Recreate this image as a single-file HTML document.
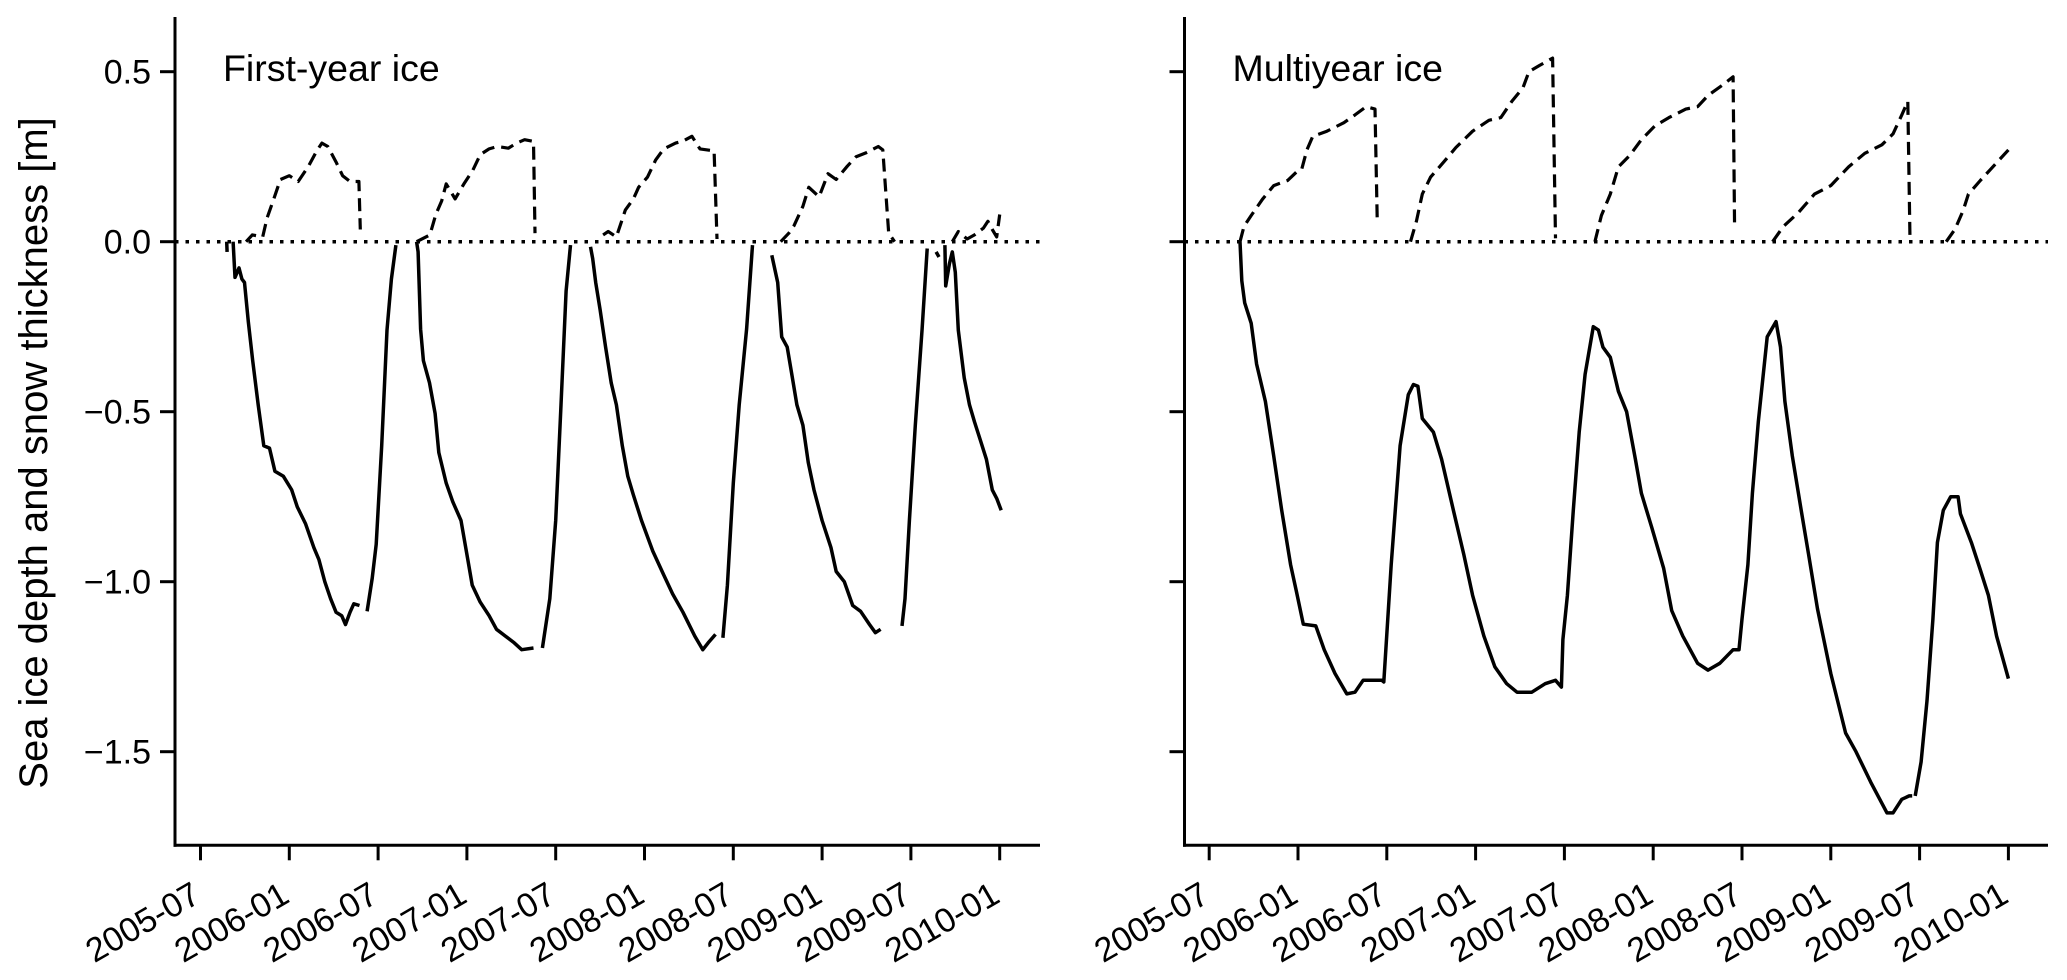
<!DOCTYPE html>
<html><head><meta charset="utf-8"><style>
html,body{margin:0;padding:0;background:#fff;}
svg{display:block;font-family:"Liberation Sans",Arial,sans-serif;}
</style></head><body>
<svg id="chart" width="2067" height="980" viewBox="0 0 2067 980" xmlns="http://www.w3.org/2000/svg">
<text transform="translate(47,453) rotate(-90)" text-anchor="middle" font-size="40" fill="#000">Sea ice depth and snow thickness [m]</text>
</svg>
<script>
// ---- data (months since 2005-07-01, metres) ----
const xTickLabels = ["2005-07","2006-01","2006-07","2007-01","2007-07","2008-01","2008-07","2009-01","2009-07","2010-01"];
const xTickMonths = [0,6,12,18,24,30,36,42,48,54];
const yTickValues = [0.5,0,-0.5,-1.0,-1.5];
const yTickLabels = ["0.5","0.0","\u22120.5","\u22121.0","\u22121.5"];
const panelTitles = ["First-year ice","Multiyear ice"];

const fyIceMonths = [1.77,1.8,null,2.2,2.33,2.6,2.8,2.97,3.23,3.53,3.9,4.28,4.66,5.03,5.6,6.16,6.54,7.1,7.66,8.0,8.4,8.79,9.16,9.54,9.8,10.1,10.36,10.74,null,11.26,11.6,11.87,12.24,12.6,12.9,13.2,null,
14.6,14.7,14.87,15.06,15.47,15.85,16.1,16.6,17.05,17.6,18.06,18.36,18.9,19.5,20.0,20.6,21.2,21.7,22.5,null,23.1,23.6,24.0,24.36,24.7,25.0,null,
26.35,26.5,26.7,27.0,27.37,27.75,28.1,28.5,28.87,29.25,29.8,30.56,31.3,31.9,32.6,33.4,33.94,34.3,34.8,null,35.3,35.6,36.0,36.4,36.9,37.3,null,
38.6,39.0,39.27,39.64,39.95,40.3,40.7,41.07,41.45,42.0,42.6,42.95,43.5,44.07,44.6,45.2,45.6,45.95,null,47.4,47.6,47.9,48.3,48.76,49.1,null,
49.7,49.9,null,50.3,50.35,50.6,50.8,51.0,51.2,51.6,51.96,52.3,52.7,53.1,53.5,53.8,54.1];
const fyIceValues = [0,-0.03,null,0,-0.105,-0.077,-0.11,-0.12,-0.235,-0.35,-0.48,-0.6,-0.607,-0.675,-0.69,-0.73,-0.78,-0.83,-0.9,-0.935,-1.0,-1.05,-1.09,-1.1,-1.126,-1.09,-1.065,-1.07,null,-1.087,-0.99,-0.89,-0.6,-0.26,-0.11,-0.01,null,
0,-0.03,-0.257,-0.35,-0.415,-0.505,-0.62,-0.71,-0.765,-0.82,-0.935,-1.01,-1.06,-1.1,-1.14,-1.16,-1.18,-1.2,-1.195,null,-1.195,-1.05,-0.82,-0.48,-0.145,-0.01,null,
-0.015,-0.05,-0.12,-0.2,-0.31,-0.415,-0.48,-0.6,-0.69,-0.745,-0.82,-0.91,-0.98,-1.036,-1.09,-1.16,-1.2,-1.18,-1.155,null,-1.165,-1.01,-0.71,-0.48,-0.257,-0.01,null,
-0.04,-0.12,-0.28,-0.31,-0.39,-0.48,-0.54,-0.65,-0.73,-0.82,-0.9,-0.97,-1.0,-1.07,-1.087,-1.126,-1.15,-1.14,null,-1.13,-1.05,-0.82,-0.54,-0.257,-0.02,null,
-0.03,-0.045,null,-0.01,-0.13,-0.065,-0.03,-0.09,-0.26,-0.4,-0.48,-0.53,-0.585,-0.64,-0.73,-0.755,-0.79];

const fySnowMonths = [3.08,3.5,4.2,4.5,4.95,5.4,6.0,6.6,7.3,7.85,8.2,8.6,9.16,9.6,10.1,10.7,10.8,null,
14.6,15.5,15.9,16.3,16.6,17.2,17.8,18.4,18.9,19.5,20.05,20.8,21.36,21.9,22.5,22.6,null,
27.2,27.55,28.1,28.7,29.25,29.6,30.2,30.75,31.3,32.1,32.6,33.2,33.75,34.7,34.9,null,
39.2,39.75,40.1,40.7,41.1,41.8,42.4,42.95,43.7,44.3,45.0,45.8,46.1,46.5,46.9,null,
50.8,51.2,51.8,52.3,52.9,53.2,53.5,53.8,54.0];
const fySnowValues = [0,0.02,0.014,0.07,0.126,0.183,0.194,0.177,0.222,0.267,0.29,0.28,0.234,0.194,0.177,0.177,0.036,null,
0,0.02,0.08,0.12,0.17,0.126,0.17,0.21,0.256,0.273,0.28,0.275,0.29,0.3,0.295,0.025,null,
0.02,0.03,0.014,0.093,0.126,0.16,0.19,0.24,0.273,0.29,0.296,0.31,0.273,0.267,0.008,null,
0,0.025,0.047,0.104,0.16,0.132,0.2,0.183,0.222,0.25,0.262,0.28,0.27,0.025,0,null,
0,0.03,0.008,0.02,0.04,0.06,0.036,0.014,0.08];

const myIceMonths = [2.08,2.2,2.4,2.84,3.2,3.8,4.36,4.9,5.5,5.9,6.36,7.2,7.77,8.5,9.3,9.85,10.4,11.0,11.67,11.8,12.3,12.9,13.45,13.8,14.1,14.4,15.15,15.7,16.5,17.2,17.8,18.56,19.3,20.1,20.8,21.8,22.7,23.4,23.8,23.9,24.2,24.6,25.0,25.4,25.95,26.3,26.6,27.1,27.65,28.2,28.8,29.2,29.9,30.7,31.25,32.0,33.0,33.7,34.5,35.4,35.8,36.0,36.4,36.7,37.1,37.7,38.3,38.6,38.9,39.4,40.0,40.5,41.1,42.0,43.0,43.7,44.7,45.8,46.2,46.8,47.3,47.5,null,47.7,48.1,48.5,48.9,49.2,49.6,50.1,50.6,50.76,51.5,52.1,52.65,53.2,54.0];
const myIceValues = [0,-0.115,-0.18,-0.24,-0.36,-0.47,-0.63,-0.79,-0.95,-1.03,-1.125,-1.13,-1.2,-1.27,-1.33,-1.325,-1.29,-1.29,-1.29,-1.295,-0.95,-0.6,-0.45,-0.42,-0.425,-0.52,-0.56,-0.64,-0.79,-0.92,-1.04,-1.16,-1.25,-1.3,-1.325,-1.325,-1.3,-1.29,-1.31,-1.17,-1.04,-0.79,-0.56,-0.39,-0.25,-0.26,-0.31,-0.34,-0.44,-0.5,-0.64,-0.74,-0.84,-0.96,-1.085,-1.16,-1.24,-1.26,-1.24,-1.2,-1.2,-1.11,-0.95,-0.74,-0.53,-0.28,-0.235,-0.31,-0.47,-0.63,-0.79,-0.92,-1.08,-1.27,-1.445,-1.5,-1.59,-1.68,-1.68,-1.64,-1.63,-1.63,null,-1.63,-1.53,-1.35,-1.11,-0.885,-0.79,-0.75,-0.75,-0.8,-0.885,-0.965,-1.04,-1.16,-1.285];

const mySnowMonths = [2.08,2.35,2.84,3.6,4.36,5.3,5.9,6.25,6.6,7.0,7.95,9.1,9.85,10.6,11.2,11.36,null,
13.6,14.0,14.4,14.96,15.9,16.67,17.8,18.9,19.7,20.45,21.2,21.6,22.3,23.2,23.4,null,
26.06,26.5,27.1,27.65,28.4,29.2,30.1,31.06,32.2,33.0,33.7,34.66,35.4,35.5,null,
38.07,38.8,39.8,40.9,42.0,43.2,44.3,45.45,46.2,46.8,47.2,47.35,null,
49.8,50.4,50.95,51.3,52.1,52.8,54.0];
const mySnowValues = [0,0.045,0.077,0.125,0.165,0.18,0.205,0.213,0.27,0.31,0.325,0.35,0.373,0.397,0.39,0.053,null,
0,0.06,0.14,0.19,0.237,0.277,0.325,0.357,0.365,0.413,0.453,0.5,0.518,0.54,0.01,null,
0,0.077,0.14,0.22,0.253,0.3,0.34,0.365,0.39,0.397,0.43,0.46,0.485,0.037,null,
0,0.045,0.085,0.14,0.165,0.22,0.26,0.285,0.317,0.373,0.413,0.005,null,
0,0.037,0.093,0.14,0.18,0.213,0.27];

// ---- layout ----
const NS = "http://www.w3.org/2000/svg";
const svg = document.getElementById('chart');
const panels = [
  {x0:175, x1:1040, tick0:200.5, name:'first-year', ice:[fyIceMonths,fyIceValues], snow:[fySnowMonths,fySnowValues], labels:true},
  {x0:1184.5, x1:2048, tick0:1209.2, name:'multiyear', ice:[myIceMonths,myIceValues], snow:[mySnowMonths,mySnowValues], labels:false}
];
const yTop = 17, yBot = 845.3, yZero = 241.7, pxPerM = 340, pxPerMonth = 14.8;
function yScale(v){ return yZero - v*pxPerM; }
function mk(tag, attrs){ const e=document.createElementNS(NS,tag); for(const k in attrs) e.setAttribute(k,attrs[k]); return e; }
function pathFrom(ms, vs, xs){
  let d='', pen=false;
  for(let i=0;i<ms.length;i++){
    if(ms[i]===null||vs[i]===null){pen=false;continue;}
    d += (pen?'L':'M') + xs(ms[i]).toFixed(1) + ' ' + yScale(vs[i]).toFixed(1) + ' ';
    pen=true;
  }
  return d;
}
panels.forEach((p,pi)=>{
  const xs = m => p.tick0 + m*pxPerMonth;
  const g = mk('g',{});
  
  
  svg.appendChild(g);
  // zero line
  const z = mk('line',{x1:p.x0,x2:p.x1,y1:yScale(0),y2:yScale(0),stroke:'#000','stroke-width':3.5,'stroke-dasharray':'3.5 7'});
  
  
  g.appendChild(z);
  // snow
  const s = mk('path',{d:pathFrom(p.snow[0],p.snow[1],xs),fill:'none',stroke:'#000','stroke-width':3.2,'stroke-dasharray':'13 7','stroke-linejoin':'round'});
  
  
  g.appendChild(s);
  // ice
  const ic = mk('path',{d:pathFrom(p.ice[0],p.ice[1],xs),fill:'none',stroke:'#000','stroke-width':3.5,'stroke-linejoin':'round'});
  
  
  g.appendChild(ic);
  // spines
  const sl = mk('line',{x1:p.x0,x2:p.x0,y1:yTop,y2:yBot+1.5,stroke:'#000','stroke-width':3});
  
  
  g.appendChild(sl);
  const sb = mk('line',{x1:p.x0-1.5,x2:p.x1,y1:yBot,y2:yBot,stroke:'#000','stroke-width':3});
  
  
  g.appendChild(sb);
  // y ticks
  yTickValues.forEach((v,i)=>{
    const t = mk('line',{x1:p.x0-15,x2:p.x0,y1:yScale(v),y2:yScale(v),stroke:'#000','stroke-width':3});
    
    
    g.appendChild(t);
    if(p.labels){
      const tx = mk('text',{x:p.x0-24,y:yScale(v)+12,'text-anchor':'end','font-size':34,fill:'#000'});
      tx.textContent = yTickLabels[i];
      
      
      g.appendChild(tx);
    }
  });
  // x ticks
  xTickMonths.forEach((m,i)=>{
    const x = xs(m);
    const t = mk('line',{x1:x,x2:x,y1:yBot,y2:yBot+15,stroke:'#000','stroke-width':3});
    
    
    g.appendChild(t);
    const tx = mk('text',{transform:'translate('+(x+2)+',901) rotate(-30)','text-anchor':'end','font-size':34,fill:'#000'});
    tx.textContent = xTickLabels[i];
    
    
    g.appendChild(tx);
  });
  // title
  const tt = mk('text',{x:p.x0+48,y:81,'font-size':37.5,fill:'#000'});
  tt.textContent = panelTitles[pi];
  
  
  g.appendChild(tt);
});
</script>
</body></html>
